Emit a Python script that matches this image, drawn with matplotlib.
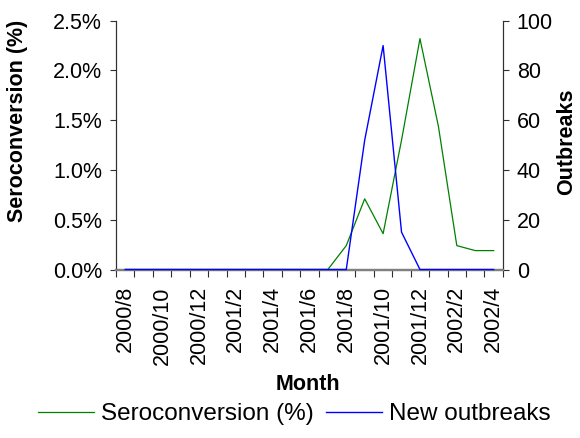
import matplotlib.pyplot as plt
import numpy as np

plt.rcParams['font.family'] = ['Liberation Sans', 'DejaVu Sans']

months = ['2000/8', '2000/9', '2000/10', '2000/11', '2000/12', '2001/1', '2001/2',
          '2001/3', '2001/4', '2001/5', '2001/6', '2001/7', '2001/8', '2001/9',
          '2001/10', '2001/11', '2001/12', '2002/1', '2002/2', '2002/3', '2002/4']
seroconversion = [0, 0, 0, 0, 0, 0, 0, 0, 0, 0, 0, 0,
                  0.24, 0.71, 0.36, 1.30, 2.32, 1.44, 0.24, 0.19, 0.19]
outbreaks = [0, 0, 0, 0, 0, 0, 0, 0, 0, 0, 0, 0,
             0, 52, 90, 15, 0, 0, 0, 0, 0]

x = np.arange(len(months))

fig = plt.figure(figsize=(5.8, 4.38), dpi=100)
ax = fig.add_axes([0.2, 0.3847, 0.667, 0.568])
ax2 = ax.twinx()

l1, = ax.plot(x, seroconversion, color='#008000', lw=0.9, zorder=3,
              clip_on=False, label='Seroconversion (%)')
l2, = ax2.plot(x, outbreaks, color='#0000FF', lw=1.0, zorder=3,
               clip_on=False, label='New outbreaks')

ax.set_xlim(-0.5, len(months) - 0.5)
ax.set_ylim(0, 2.5)
ax2.set_ylim(0, 100)

ax.set_yticks(np.arange(0, 2.51, 0.5))
ax.set_yticklabels([f'{v:.1f}%' for v in np.arange(0, 2.51, 0.5)])
ax2.set_yticks(np.arange(0, 101, 20))

# tick marks between categories, labels every second month
ax.set_xticks(np.arange(-0.5, len(months)), minor=False)
ax.set_xticklabels([])
ax.set_xticks(x[::2], minor=True)
ax.set_xticklabels(months[::2], minor=True, rotation=90)
ax.tick_params(axis='x', which='major', direction='out', length=5, width=0.8, color='#303030')
ax.tick_params(axis='x', which='minor', length=0, pad=12, labelsize=15.5)

ax.tick_params(axis='y', direction='out', length=4, width=0.8, color='#303030', labelsize=15.5, pad=6)
ax2.tick_params(axis='y', direction='out', length=4, width=0.8, color='#303030', labelsize=15.5, pad=6)

for a in (ax, ax2):
    a.spines['top'].set_visible(False)
    a.spines['left'].set_color('#303030')
    a.spines['right'].set_color('#303030')
    a.spines['left'].set_linewidth(0.8)
    a.spines['right'].set_linewidth(0.8)
    a.spines['bottom'].set_color('#808080')
    a.spines['bottom'].set_linewidth(1.6)

ax.set_ylabel('Seroconversion (%)', fontsize=15.5, fontweight='bold')
ax.yaxis.set_label_coords(-0.227, 0.597)
ax2.set_ylabel('Outbreaks', fontsize=15.5, fontweight='bold')
ax2.yaxis.set_label_coords(1.137, 0.512)

fig.text(308 / 580, 1 - 384 / 438, 'Month', fontsize=15.5, fontweight='bold',
         ha='center', va='center')

fig.legend(handles=[l1, l2], loc='center', bbox_to_anchor=(294.5 / 580, 1 - 414 / 438),
           ncol=2, frameon=False, fontsize=17.5, handlelength=2.3, handletextpad=0.3,
           columnspacing=0.5)

fig.savefig('out.png', dpi=100)
